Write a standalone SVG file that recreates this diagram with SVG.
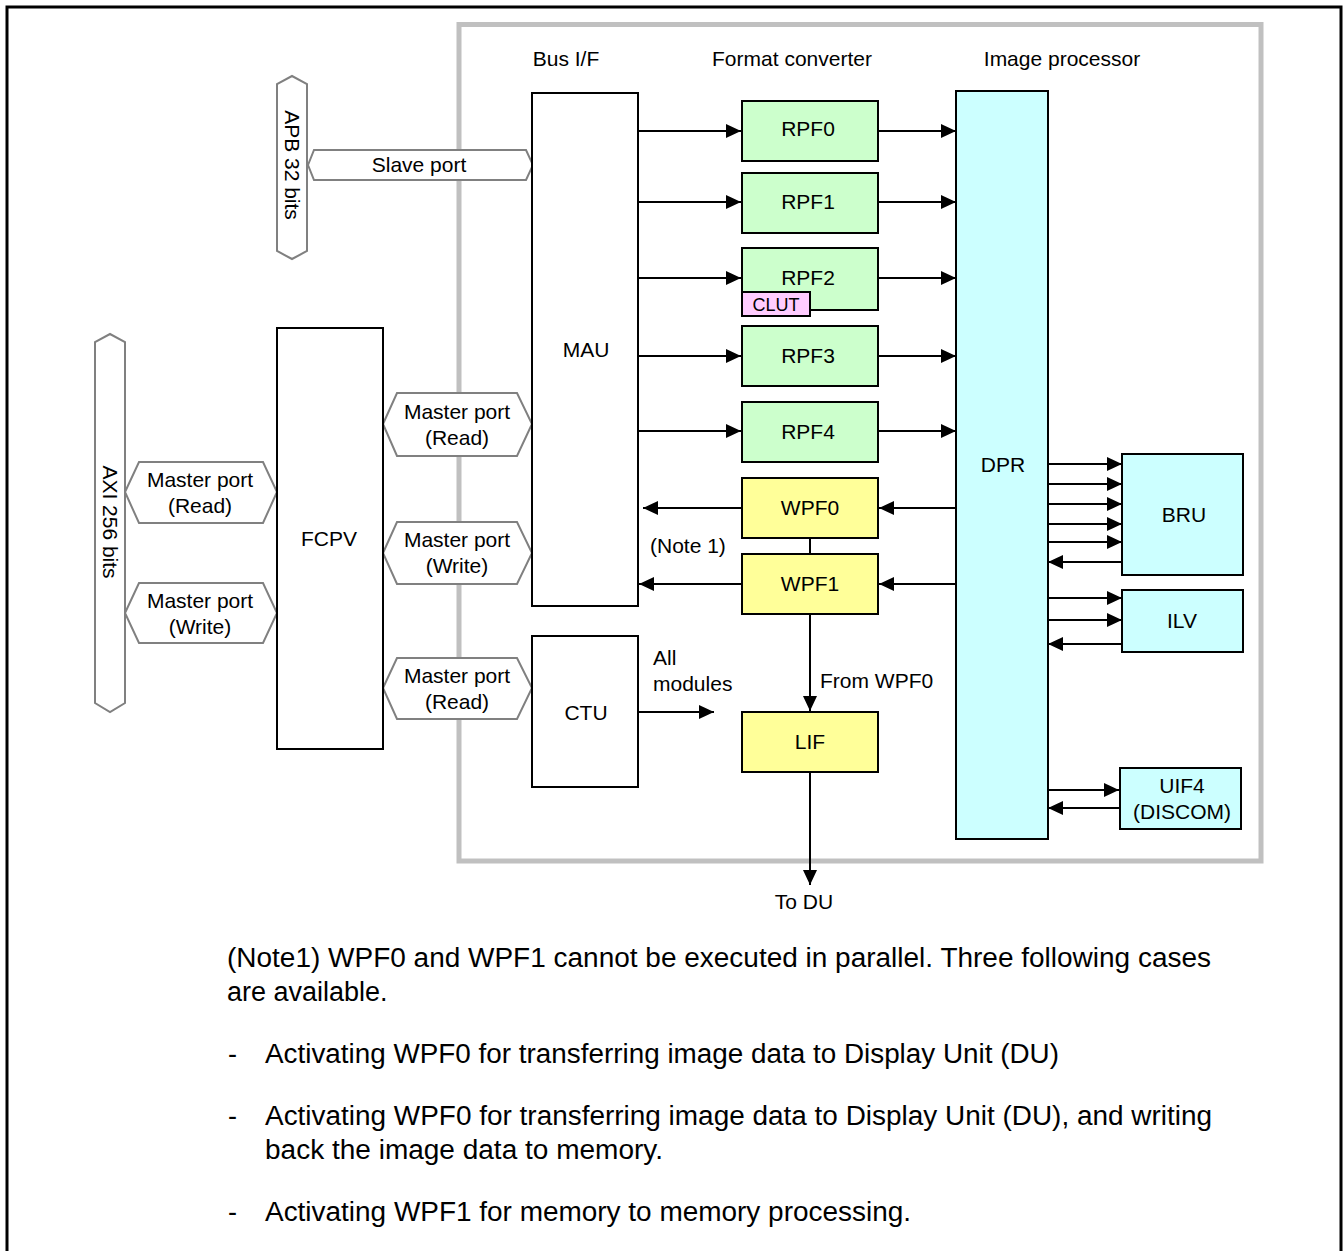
<svg xmlns="http://www.w3.org/2000/svg" width="1344" height="1251" viewBox="0 0 1344 1251">
<style>
text{font-family:"Liberation Sans",Arial,sans-serif;fill:#000}
.t{font-size:21px;text-anchor:middle}
.l{font-size:21px}
.n{font-size:27px}
.box{stroke:#000;stroke-width:2}
.g{fill:#ccffcc}.y{fill:#ffff99}.c{fill:#ccffff}.w{fill:#fff}
.port{fill:#fff;stroke:#808080;stroke-width:2}
.ln{stroke:#000;stroke-width:2;fill:none}
.ar{stroke:#000;stroke-width:2;fill:none;marker-end:url(#ah)}
</style>
<defs>
<marker id="ah" markerUnits="userSpaceOnUse" markerWidth="16" markerHeight="14" refX="15" refY="7" orient="auto">
<path d="M0,0 L15,7 L0,14 Z" fill="#000"/>
</marker>
</defs>
<rect width="1344" height="1251" fill="#fff"/>
<rect x="7" y="7" width="1334" height="1260" fill="none" stroke="#000" stroke-width="3"/>
<rect id="vsp" x="459" y="24.5" width="802" height="836.5" fill="none" stroke="#c0c0c0" stroke-width="5"/>
<text class="t" x="566" y="66">Bus I/F</text>
<text class="t" x="792" y="66">Format converter</text>
<text class="t" x="1062" y="66">Image processor</text>

<g id="connectors">
<path class="ar" d="M638,131H741"/>
<path class="ar" d="M638,202H741"/>
<path class="ar" d="M638,278H741"/>
<path class="ar" d="M638,356H741"/>
<path class="ar" d="M638,431H741"/>
<path class="ar" d="M878,131H956"/>
<path class="ar" d="M878,202H956"/>
<path class="ar" d="M878,278H956"/>
<path class="ar" d="M878,356H956"/>
<path class="ar" d="M878,431H956"/>
<path class="ar" d="M956,508H879"/>
<path class="ar" d="M956,584H879"/>
<path class="ar" d="M742,508H643"/>
<path class="ar" d="M742,584H639"/>
<path class="ln" d="M810,538V554"/>
<path class="ar" d="M810,614V711"/>
<path class="ar" d="M810,772V885"/>
<path class="ar" d="M638,712H714"/>
<path class="ar" d="M1048,464H1122"/>
<path class="ar" d="M1048,484H1122"/>
<path class="ar" d="M1048,504H1122"/>
<path class="ar" d="M1048,524H1122"/>
<path class="ar" d="M1048,542H1122"/>
<path class="ar" d="M1122,562H1048"/>
<path class="ar" d="M1048,598H1122"/>
<path class="ar" d="M1048,620H1122"/>
<path class="ar" d="M1122,644H1048"/>
<path class="ar" d="M1046,790H1119"/>
<path class="ar" d="M1119,808H1048"/>
</g>

<g id="apb"><polygon class="port" points="292,76 307,84 307,251 292,259 277,251 277,84"/>
<text class="l" transform="translate(292,165) rotate(90)" text-anchor="middle" y="7">APB 32 bits</text></g>
<g id="axi"><polygon class="port" points="110,334 125,342 125,703 110,712 95,703 95,342"/>
<text class="l" transform="translate(110,522) rotate(90)" text-anchor="middle" y="7">AXI 256 bits</text></g>

<g id="slave-port"><polygon class="port" points="308,165 314,150 526,150 533,165 526,180 314,180"/>
<text class="t" x="419" y="172">Slave port</text></g>

<g id="mp-l-read"><polygon class="port" points="125,492 139,462 263,462 277,492 263,523 139,523"/>
<text class="t" x="200" y="487">Master port</text><text class="t" x="200" y="513">(Read)</text></g>
<g id="mp-l-write"><polygon class="port" points="125,613 139,583 263,583 277,613 263,643 139,643"/>
<text class="t" x="200" y="608">Master port</text><text class="t" x="200" y="634">(Write)</text></g>
<g id="mp-r-read1"><polygon class="port" points="383,424 397,393 517,393 532,424 517,456 397,456"/>
<text class="t" x="457" y="419">Master port</text><text class="t" x="457" y="445">(Read)</text></g>
<g id="mp-r-write"><polygon class="port" points="383,553 397,522 517,522 532,553 517,584 397,584"/>
<text class="t" x="457" y="547">Master port</text><text class="t" x="457" y="573">(Write)</text></g>
<g id="mp-r-read2"><polygon class="port" points="383,688 397,658 517,658 532,688 517,719 397,719"/>
<text class="t" x="457" y="683">Master port</text><text class="t" x="457" y="709">(Read)</text></g>

<g id="fcpv"><rect class="box w" x="277" y="328" width="106" height="421"/><text class="t" x="329" y="546">FCPV</text></g>
<g id="mau"><rect class="box w" x="532" y="93" width="106" height="513"/><text class="t" x="586" y="357">MAU</text></g>
<g id="ctu"><rect class="box w" x="532" y="636" width="106" height="151"/><text class="t" x="586" y="720">CTU</text></g>

<g id="rpf0"><rect class="box g" x="742" y="101" width="136" height="60"/><text class="t" x="808" y="136">RPF0</text></g>
<g id="rpf1"><rect class="box g" x="742" y="173" width="136" height="60"/><text class="t" x="808" y="209">RPF1</text></g>
<g id="rpf2"><rect class="box g" x="742" y="248" width="136" height="62"/><text class="t" x="808" y="285">RPF2</text>
<g id="clut"><rect class="box" fill="#ffccff" x="742" y="292" width="68" height="24"/><text x="776" y="311" font-size="18" text-anchor="middle">CLUT</text></g></g>
<g id="rpf3"><rect class="box g" x="742" y="326" width="136" height="60"/><text class="t" x="808" y="363">RPF3</text></g>
<g id="rpf4"><rect class="box g" x="742" y="402" width="136" height="60"/><text class="t" x="808" y="439">RPF4</text></g>

<g id="wpf0"><rect class="box y" x="742" y="478" width="136" height="60"/><text class="t" x="810" y="515">WPF0</text></g>
<g id="wpf1"><rect class="box y" x="742" y="554" width="136" height="60"/><text class="t" x="810" y="591">WPF1</text></g>
<g id="lif"><rect class="box y" x="742" y="712" width="136" height="60"/><text class="t" x="810" y="749">LIF</text></g>

<g id="dpr"><rect class="box c" x="956" y="91" width="92" height="748"/><text class="t" x="1003" y="472">DPR</text></g>
<g id="bru"><rect class="box c" x="1122" y="454" width="121" height="121"/><text class="t" x="1184" y="522">BRU</text></g>
<g id="ilv"><rect class="box c" x="1122" y="590" width="121" height="62"/><text class="t" x="1182" y="628">ILV</text></g>
<g id="uif4"><rect class="box c" x="1120" y="768" width="121" height="61"/><text class="t" x="1182" y="793">UIF4</text><text class="t" x="1182" y="819">(DISCOM)</text></g>

<text class="l" x="650" y="553">(Note 1)</text>
<text class="l" x="653" y="665">All</text>
<text class="l" x="653" y="691">modules</text>
<text class="l" x="820" y="688">From WPF0</text>
<text class="t" x="804" y="909">To DU</text>

<g id="note">
<text class="n" x="227" y="967" textLength="984" lengthAdjust="spacingAndGlyphs">(Note1) WPF0 and WPF1 cannot be executed in parallel. Three following cases</text>
<text class="n" x="227" y="1001">are available.</text>
<text class="n" x="228" y="1063">-</text>
<text class="n" x="265" y="1063" textLength="794" lengthAdjust="spacingAndGlyphs">Activating WPF0 for transferring image data to Display Unit (DU)</text>
<text class="n" x="228" y="1125">-</text>
<text class="n" x="265" y="1125" textLength="947" lengthAdjust="spacingAndGlyphs">Activating WPF0 for transferring image data to Display Unit (DU), and writing</text>
<text class="n" x="265" y="1159" textLength="398" lengthAdjust="spacingAndGlyphs">back the image data to memory.</text>
<text class="n" x="228" y="1221">-</text>
<text class="n" x="265" y="1221" textLength="646" lengthAdjust="spacingAndGlyphs">Activating WPF1 for memory to memory processing.</text>
</g>
</svg>
